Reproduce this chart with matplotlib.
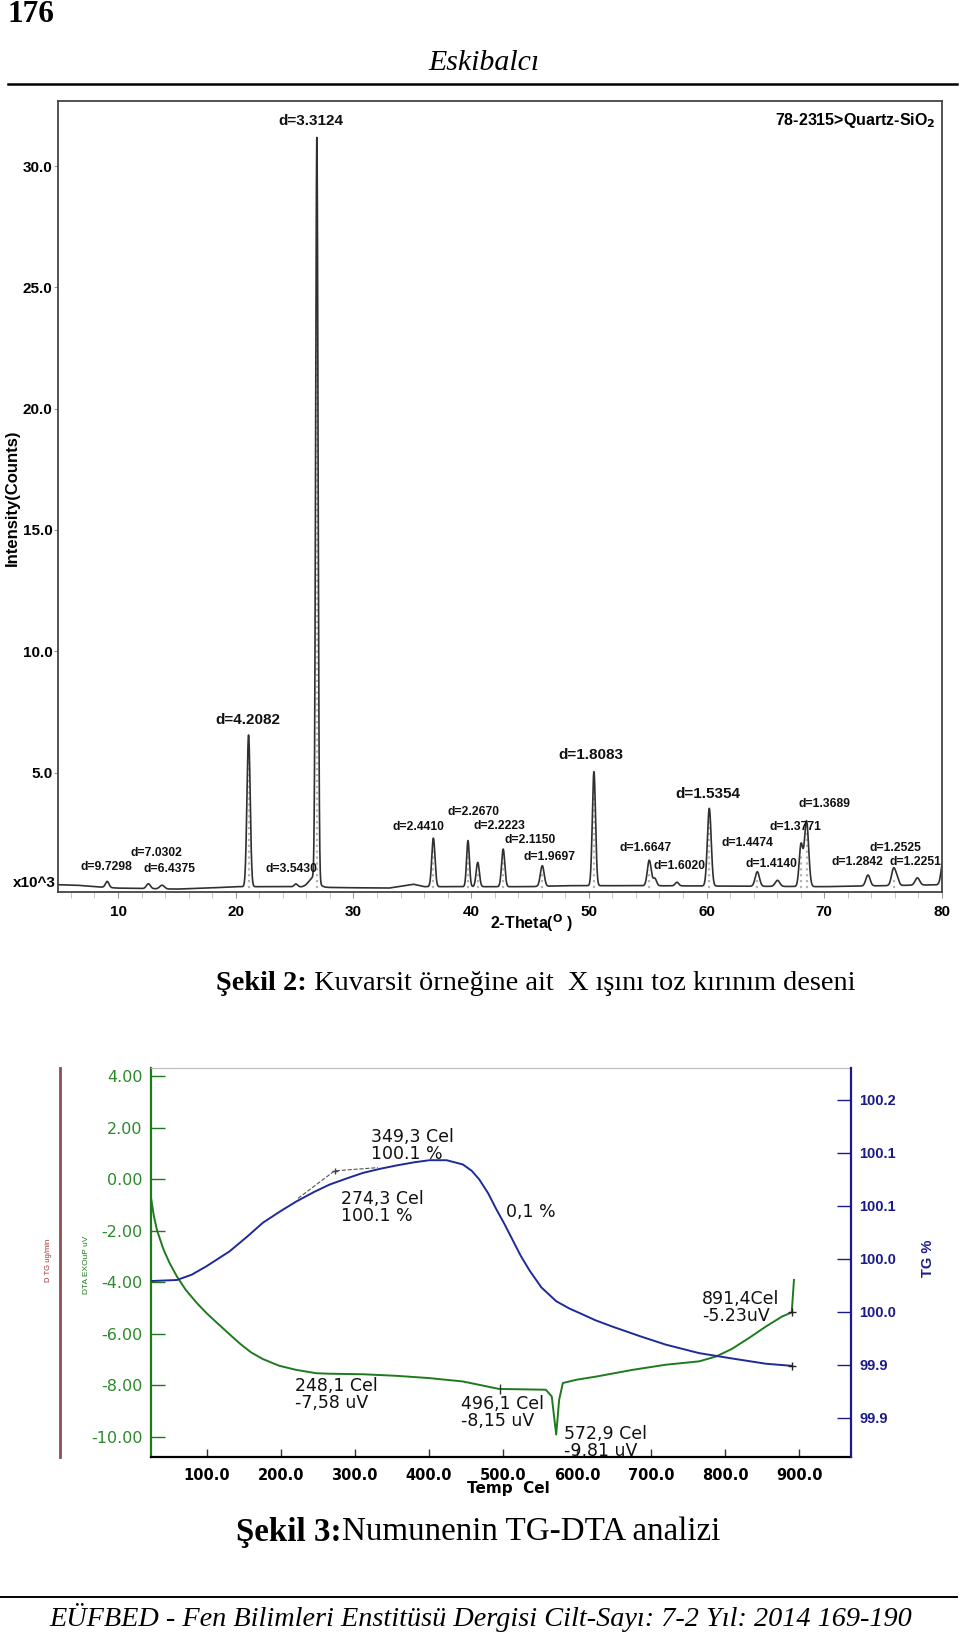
import matplotlib
matplotlib.use('Agg')
import matplotlib.pyplot as plt
import numpy as np
from matplotlib.lines import Line2D

W, H = 960, 1637

# ---------------- Sekil 2: XRD pattern ----------------
# peak positions (2-theta), heights above background (x10^3 counts) and widths
peak_2theta = [9.08, 12.58, 13.74, 21.09, 25.11, 26.60, 26.89, 36.79, 39.73, 40.56, 42.72, 46.04,
               50.43, 55.13, 55.60, 57.48, 60.23, 64.31, 66.02, 68.02, 68.49, 73.71, 75.89, 76.20,
               77.91, 80.10]
peak_height = [0.25, 0.20, 0.15, 6.25, 0.12, 0.40, 30.6, 2.00, 1.90, 1.00, 1.55, 0.85,
               4.70, 1.05, 0.30, 0.15, 3.20, 0.60, 0.25, 1.70, 2.70, 0.45, 0.70, 0.25,
               0.30, 1.00]
peak_fwhm = [0.35, 0.40, 0.45, 0.32, 0.35, 0.90, 0.24, 0.32, 0.28, 0.32, 0.32, 0.38,
             0.32, 0.38, 0.35, 0.35, 0.38, 0.42, 0.45, 0.36, 0.42, 0.42, 0.42, 0.35,
             0.45, 0.40]

# background level
base_2theta = [4.9, 6.5, 8.0, 10.0, 15.0, 18.0, 20.0, 24.0, 29.0, 33.0, 35.1, 36.0, 45.0, 48.0, 55.0, 70.0, 80.0]
base_level = [0.38, 0.36, 0.30, 0.24, 0.20, 0.25, 0.30, 0.30, 0.26, 0.24, 0.40, 0.30, 0.30, 0.34, 0.34, 0.30, 0.38]

# d-spacing labels: text, x (2-theta), y (x10^3), large?
d_labels = [
    ('d=3.3124', 26.36, 31.85, True),
    ('d=4.2082', 21.02, 7.17, True),
    ('d=9.7298', 8.99, 1.11, False),
    ('d=7.0302', 13.27, 1.67, False),
    ('d=6.4375', 14.33, 1.03, False),
    ('d=3.5430', 24.74, 1.03, False),
    ('d=2.4410', 35.54, 2.74, False),
    ('d=2.2670', 40.24, 3.38, False),
    ('d=2.2223', 42.44, 2.78, False),
    ('d=2.1150', 44.98, 2.22, False),
    ('d=1.9697', 46.67, 1.52, False),
    ('d=1.8083', 50.14, 5.71, True),
    ('d=1.6647', 54.80, 1.90, False),
    ('d=1.6020', 57.68, 1.15, False),
    ('d=1.5354', 60.09, 4.12, True),
    ('d=1.4474', 63.44, 2.10, False),
    ('d=1.4140', 65.55, 1.24, False),
    ('d=1.3771', 67.59, 2.74, False),
    ('d=1.3689', 70.00, 3.69, False),
    ('d=1.2842', 72.79, 1.32, False),
    ('d=1.2525', 76.01, 1.90, False),
    ('d=1.2251', 77.75, 1.32, False),
]

xrd_xticks = [10, 20, 30, 40, 50, 60, 70, 80]
xrd_yticks = [5.0, 10.0, 15.0, 20.0, 25.0, 30.0]

# ---------------- Sekil 3: TG-DTA ----------------
tg_temp = [25, 60, 80, 100, 131, 155, 176, 200, 221, 245, 266, 290, 311, 335, 356, 380, 401,
           424, 446, 458, 468, 480, 491, 502, 513, 524, 536, 552, 572, 590, 603, 625, 648,
           685, 720, 765, 809, 855, 890]
tg_val = [100.004, 100.005, 100.010, 100.018, 100.032, 100.046, 100.059, 100.070, 100.079,
          100.088, 100.095, 100.101, 100.106, 100.110, 100.113, 100.116, 100.118, 100.118,
          100.114, 100.108, 100.100, 100.087, 100.072, 100.058, 100.043, 100.028, 100.014,
          99.998, 99.985, 99.978, 99.974, 99.967, 99.961, 99.952, 99.944, 99.936, 99.931,
          99.926, 99.924]

dta_temp = [25, 29, 33, 38, 42, 50, 60, 72, 87, 100, 115, 131, 145, 160, 176, 198, 221, 248,
            266, 311, 356, 401, 446, 468, 495, 558, 566, 572, 576, 581, 600, 626, 675, 720,
            765, 788, 809, 832, 855, 877, 890, 893]
dta_val = [-0.73, -1.45, -1.97, -2.40, -2.74, -3.25, -3.78, -4.30, -4.81, -5.20, -5.60, -6.02,
           -6.38, -6.72, -6.98, -7.24, -7.40, -7.53, -7.55, -7.57, -7.63, -7.72, -7.85, -7.98,
           -8.14, -8.17, -8.43, -9.91, -8.56, -7.91, -7.78, -7.66, -7.40, -7.20, -7.07, -6.88,
           -6.59, -6.17, -5.72, -5.33, -5.17, -3.91]

# onset construction on the TG curve
onset_temp = [223.5, 272.9, 331.3]
onset_val = [100.082, 100.108, 100.111]

dta_yticks = [4.0, 2.0, 0.0, -2.0, -4.0, -6.0, -8.0, -10.0]
temp_ticks = [100, 200, 300, 400, 500, 600, 700, 800, 900]
tg_ticks = [100.175, 100.125, 100.075, 100.025, 99.975, 99.925, 99.875]
tg_tick_labels = ['100.2', '100.1', '100.1', '100.0', '100.0', '99.9', '99.9']

dta_notes = [
    ('349,3 Cel\n100.1 %', 322.4, 1.98),
    ('274,3 Cel\n100.1 %', 281.9, -0.42),
    ('0,1 %', 504.3, -0.92),
    ('248,1 Cel\n-7,58 uV', 219.0, -7.66),
    ('496,1 Cel\n-8,15 uV', 443.7, -8.37),
    ('572,9 Cel\n-9,81 uV', 582.9, -9.53),
    ('891,4Cel\n-5.23uV', 769.3, -4.30),
]

green = '#1f7a1f'
green_lbl = '#2b8a2b'
navy = '#1a1a8a'
blue_line = '#1f2a9a'

fig = plt.figure(figsize=(W / 100, H / 100), dpi=100)
renderer = fig.canvas.get_renderer()

# ---------- page furniture ----------
fig.text(8 / W, 1 - 22 / H, '176', family='Liberation Serif', weight='bold', fontsize=22.5, va='baseline')
fig.text(484 / W, 1 - 63 / H, 'Eskibalcı', family='Liberation Serif', style='italic', fontsize=21.5,
         ha='center', va='center')
fig.add_artist(Line2D([8 / W, 957 / W], [1 - 83.5 / H] * 2, color='black', lw=1.8))
fig.add_artist(Line2D([0, 957 / W], [1 - 1597 / H] * 2, color='black', lw=1.4))
fig.text(481 / W, 1 - 1617 / H,
         'EÜFBED - Fen Bilimleri Enstitüsü Dergisi Cilt-Sayı: 7-2 Yıl: 2014 169-190',
         family='Liberation Serif', style='italic', fontsize=20.3, ha='center', va='center')


def caption(x_px, y_px, bold, rest, size):
    t = fig.text(x_px / W, 1 - y_px / H, bold, family='Liberation Serif', weight='bold',
                 fontsize=size, va='center')
    bb = t.get_window_extent(renderer=renderer)
    fig.text(bb.x1 / W, 1 - y_px / H, rest, family='Liberation Serif', fontsize=size, va='center')


caption(216, 984, 'Şekil 2:', ' Kuvarsit örneğine ait  X ışını toz kırınım deseni', 20.4)
caption(236, 1532, 'Şekil 3:', 'Numunenin TG-DTA analizi', 23.8)

# ---------- XRD ----------
ax = fig.add_axes([58 / W, 1 - 892 / H, 884 / W, 791 / H])
tt = np.linspace(4.9, 80.2, 8000)
counts = np.interp(tt, base_2theta, base_level)
for c, h, w in zip(peak_2theta, peak_height, peak_fwhm):
    counts = counts + h * np.exp(-4 * np.log(2) * ((tt - c) / w) ** 2)
for c, h in zip(peak_2theta, peak_height):
    if h > 0.5:
        ax.plot([c, c], [0, h * 0.95], color='#b5b5b5', lw=1.6, ls=':')
ax.plot(tt, counts, color='#303030', lw=1.2)
ax.set_xlim(4.9, 80)
ax.set_ylim(0.08, 32.68)
ax.set_xticks(xrd_xticks)
ax.set_xticks(np.arange(6, 80, 2), minor=True)
ax.set_yticks(xrd_yticks)
ax.set_yticklabels([f'{v:.1f}' for v in xrd_yticks])
ax.tick_params(axis='x', which='major', length=4, color='#999999', pad=5, labelsize=11)
ax.tick_params(axis='y', which='major', length=3, color='#999999', pad=1, labelsize=11)
ax.tick_params(axis='x', which='minor', length=4, color='#bbbbbb')
for lbl in ax.get_xticklabels() + ax.get_yticklabels():
    lbl.set_family('Liberation Sans')
    lbl.set_fontweight('bold')
for sp in ax.spines.values():
    sp.set_color('#444444')
    sp.set_linewidth(1.3)
for txt, x, y, big in d_labels:
    ax.text(x, y, txt, ha='center', va='center', family='Liberation Sans', weight='bold',
            fontsize=11 if big else 8.7, color='#111111')
ax.text(0.993, 0.975, r'78-2315>Quartz-SiO$_\mathbf{2}$', transform=ax.transAxes, ha='right', va='center',
        family='Liberation Sans', weight='bold', fontsize=11.5)
fig.text(56 / W, 1 - 883 / H, 'x10^3', family='Liberation Sans', weight='bold', fontsize=11,
         ha='right', va='center')
fig.text(532 / W, 1 - 923 / H, r'2-Theta($^{\mathbf{O}}$ )', family='Liberation Sans', weight='bold',
         fontsize=11.5, ha='center', va='center')
fig.text(12 / W, 1 - 498 / H, 'Intensity(Counts)', family='Liberation Sans', weight='bold',
         fontsize=12, rotation=90, ha='center', va='center')

# ---------- TG-DTA ----------
ax2 = fig.add_axes([151 / W, 1 - 1457 / H, 700 / W, 389 / H])
ax2.plot(dta_temp, dta_val, color=green, lw=1.4)
ax2.plot([496.1], [-8.14], marker='|', color='#333333', ms=7)
ax2.plot([890], [-5.17], marker='+', color='#222222', ms=6)
ax2.set_xlim(25, 970)
ax2.set_ylim(-10.78, 4.31)
ax2.set_yticks(dta_yticks)
ax2.set_yticklabels([f'{v:.2f}' for v in dta_yticks])
ax2.set_xticks(temp_ticks)
ax2.set_xticklabels([f'{v:.1f}' for v in temp_ticks])
ax2.tick_params(axis='y', direction='in', length=10, width=1, color=green, labelcolor=green_lbl,
                pad=6, labelsize=11.5)
ax2.tick_params(axis='x', direction='in', length=6, width=1, color='#333333', pad=8, labelsize=10.5)
for lbl in ax2.get_xticklabels():
    lbl.set_fontweight('bold')
ax2.spines['left'].set_color(green)
ax2.spines['left'].set_linewidth(1.6)
ax2.spines['bottom'].set_color('black')
ax2.spines['bottom'].set_linewidth(1.6)
ax2.spines['top'].set_color('#bbbbbb')
ax2.spines['top'].set_linewidth(0.8)
ax2.spines['right'].set_visible(False)

ax3 = ax2.twinx()
ax3.plot(tg_temp, tg_val, color=blue_line, lw=1.4)
ax3.plot(onset_temp, onset_val, color='#555555', lw=0.8, ls='--')
ax3.plot([onset_temp[1]], [onset_val[1]], marker='+', color='#444444', ms=5)
ax3.plot([tg_temp[-1]], [tg_val[-1]], marker='+', color='#222222', ms=6)
ax3.set_ylim(99.838, 100.205)
ax3.set_yticks(tg_ticks)
ax3.set_yticklabels(tg_tick_labels)
ax3.tick_params(axis='y', direction='in', length=10, width=1, color=navy, labelcolor=navy,
                pad=6, labelsize=10.5)
for lbl in ax3.get_yticklabels():
    lbl.set_family('Liberation Sans')
    lbl.set_fontweight('bold')
for side in ['left', 'top', 'bottom']:
    ax3.spines[side].set_visible(False)
ax3.spines['right'].set_color(navy)
ax3.spines['right'].set_linewidth(1.6)

for txt, x, y in dta_notes:
    ax2.text(x, y, txt, ha='left', va='top', fontsize=12.5, color='#111111', linespacing=0.95)

fig.text(508 / W, 1 - 1488 / H, 'Temp  Cel', fontsize=11, weight='bold', ha='center', va='center')
fig.text(928 / W, 1 - 1258 / H, 'TG %', family='Liberation Sans', weight='bold', fontsize=10.5,
         color=navy, rotation=90, ha='center', va='center')
fig.text(86 / W, 1 - 1265 / H, 'DTA EXOuP uV', family='Liberation Sans', fontsize=6, color=green,
         rotation=90, ha='center', va='center')
fig.text(49 / W, 1 - 1260 / H, 'D TG ug/min', family='Liberation Sans', fontsize=5.5, color='#a03030',
         rotation=90, ha='center', va='center')
fig.add_artist(Line2D([60 / W] * 2, [1 - 1068 / H, 1 - 1457 / H], color='#8a5050', lw=2))

fig.savefig('out.png', dpi=100)
